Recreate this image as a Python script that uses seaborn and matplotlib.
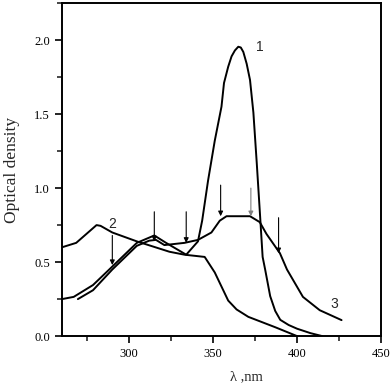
import matplotlib
matplotlib.use('Agg')
import matplotlib.pyplot as plt
import seaborn as sns
import pandas as pd
from matplotlib.ticker import MultipleLocator

# spectra (wavelength nm, optical density)
wl_1 = [260, 267, 278.5, 290, 304.6, 315, 322, 334, 341, 343.5, 347, 351, 355, 356.5,
        359, 361, 363, 365, 366.5, 368, 370, 372, 374, 376, 378, 379.5, 381, 384, 387, 390,
        395, 400, 408, 415]
od_1 = [0.25, 0.265, 0.345, 0.47, 0.63, 0.68, 0.63, 0.55, 0.64, 0.78, 1.05, 1.32, 1.55, 1.71,
        1.82, 1.89, 1.93, 1.955, 1.95, 1.92, 1.84, 1.73, 1.51, 1.17, 0.81, 0.535, 0.45, 0.27,
        0.17, 0.11, 0.075, 0.05, 0.02, 0.0]

wl_2 = [260, 268.5, 280.6, 283, 290, 304.6, 324, 333, 345, 351, 359, 364, 371, 387, 400]
od_2 = [0.60, 0.63, 0.75, 0.745, 0.70, 0.64, 0.57, 0.55, 0.535, 0.43, 0.24, 0.18, 0.13, 0.06, 0.0]

wl_3 = [269.5, 278.5, 290, 304.6, 312, 316, 321, 333, 341, 349, 354, 358, 372, 377.8,
        381.8, 389.8, 394, 403.5, 413.5, 426.5]
od_3 = [0.25, 0.31, 0.45, 0.61, 0.645, 0.65, 0.615, 0.63, 0.65, 0.70, 0.78, 0.81, 0.81, 0.77,
        0.69, 0.56, 0.45, 0.265, 0.175, 0.108]

# curve labels
label_text = ['1', '2', '3']
label_x = [377.8, 290, 422]
label_y = [1.95, 0.76, 0.215]

# arrows: x, start, end
arrow_x = [290, 315, 334, 354.5, 372.5, 389]
arrow_y0 = [0.68, 0.84, 0.84, 1.02, 1.00, 0.80]
arrow_y1 = [0.48, 0.64, 0.63, 0.81, 0.81, 0.56]
arrow_col = ['black', 'black', 'black', 'black', '#808080', 'black']

sns.set_style('ticks')
plt.rcParams['font.family'] = ['Liberation Serif', 'DejaVu Serif']

fig = plt.figure(figsize=(3.92, 3.85), dpi=100)
ax = fig.add_axes([0.158, 0.127, 0.814, 0.865])

for wl, od in [(wl_1, od_1), (wl_2, od_2), (wl_3, od_3)]:
    df = pd.DataFrame({'wl': wl, 'od': od})
    sns.lineplot(data=df, x='wl', y='od', sort=False, color='black', lw=1.4, ax=ax)

for t, x, y in zip(label_text, label_x, label_y):
    ax.text(x, y, t, fontsize=10, family='Liberation Sans', ha='center', va='center')

for x, y0, y1, c in zip(arrow_x, arrow_y0, arrow_y1, arrow_col):
    ax.annotate('', xy=(x, y1), xytext=(x, y0),
                arrowprops=dict(arrowstyle='-|>', lw=0.8, color=c, mutation_scale=7,
                                shrinkA=0, shrinkB=0))

ax.set_xlim(260, 450)
ax.set_ylim(0, 2.25)
ax.xaxis.set_major_locator(MultipleLocator(50))
ax.xaxis.set_minor_locator(MultipleLocator(25))
ax.yaxis.set_major_locator(MultipleLocator(0.5))
ax.yaxis.set_minor_locator(MultipleLocator(0.25))
ax.yaxis.set_major_formatter(matplotlib.ticker.FormatStrFormatter('%.1f'))

for s in ax.spines.values():
    s.set_linewidth(1.4)
    s.set_color('black')
ax.tick_params(which='major', direction='out', length=5, width=1.2, labelsize=9, colors='black')
ax.tick_params(which='minor', direction='out', length=3.5, width=1.2)

ax.set_xlabel('λ ,nm', fontsize=10.5)
ax.set_ylabel('Optical density', fontsize=12.5)
ax.xaxis.set_label_coords(0.577, -0.102)
ax.yaxis.set_label_coords(-0.132, 0.5)

fig.savefig('out.png', dpi=100)
